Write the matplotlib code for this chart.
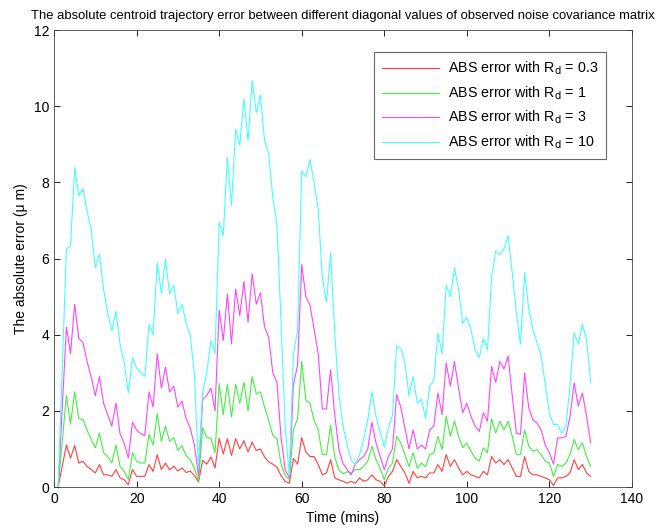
import numpy as np
import matplotlib
matplotlib.use('Agg')
import matplotlib.pyplot as plt

plt.rcParams['font.family'] = ['Liberation Sans', 'DejaVu Sans']

# time stamps (mins): first sample, then one per minute
minutes = [1] + list(range(3, 131))

err_r03 = [0.0,
           1.10, 0.76, 1.09, 0.63, 0.68, 0.54, 0.46, 0.37,
           0.59, 0.32, 0.32, 0.28, 0.46, 0.24, 0.19, 0.06, 0.46, 0.28,
           0.28, 0.28, 0.59, 0.41, 0.85, 0.46, 0.63, 0.45, 0.55, 0.42,
           0.50, 0.38, 0.42, 0.30, 0.13, 0.70, 0.60, 0.79, 0.50, 1.28,
           0.87, 1.27, 0.83, 1.27, 1.00, 1.22, 0.92, 1.18, 0.96, 1.00,
           0.79, 0.66, 0.60, 0.52, 0.30, 0.15, 0.10, 0.75, 0.60, 1.30,
           0.92, 0.80, 0.80, 0.59, 0.32, 0.37, 0.72, 0.24, 0.19, 0.15,
           0.10, 0.15, 0.10, 0.24, 0.15, 0.19, 0.32, 0.19, 0.15, 0.03,
           0.28, 0.41, 0.72, 0.54, 0.37, 0.10, 0.41, 0.24, 0.28, 0.24,
           0.37, 0.37, 0.59, 0.41, 0.85, 0.54, 0.72, 0.50, 0.32, 0.41,
           0.32, 0.28, 0.24, 0.41, 0.32, 0.80, 0.63, 0.72, 0.59, 0.72,
           0.50, 0.28, 0.28, 0.80, 0.41, 0.32, 0.32, 0.28, 0.24, 0.19,
           0.04, 0.24, 0.24, 0.28, 0.37, 0.72, 0.46, 0.59, 0.37, 0.28]

err_r1 = [0.0,
          2.40, 1.65, 2.50, 1.80, 1.77, 1.50, 1.25, 1.03,
          1.42, 0.90, 0.80, 0.63, 1.10, 0.54, 0.41, 0.20, 0.90, 0.68,
          0.63, 0.63, 1.38, 1.10, 1.93, 1.20, 1.60, 1.20, 1.30, 0.97,
          1.08, 0.82, 0.72, 0.50, 0.15, 1.55, 1.30, 1.28, 0.90, 2.72,
          1.90, 2.70, 1.84, 2.70, 2.20, 2.75, 2.00, 2.90, 2.45, 2.50,
          2.10, 1.75, 1.35, 1.27, 0.60, 0.30, 0.20, 1.50, 1.80, 3.30,
          2.28, 2.20, 1.75, 1.50, 0.85, 0.85, 1.62, 0.80, 0.45, 0.35,
          0.40, 0.37, 0.46, 0.46, 0.54, 0.68, 1.07, 0.72, 0.50, 0.19,
          0.50, 0.63, 1.33, 1.16, 0.85, 0.54, 0.90, 0.50, 0.63, 0.54,
          0.85, 0.90, 1.33, 0.98, 1.86, 1.33, 1.73, 1.33, 1.03, 1.16,
          0.94, 0.76, 0.68, 1.03, 0.90, 1.80, 1.42, 1.73, 1.50, 1.73,
          1.33, 0.85, 0.85, 1.50, 1.07, 0.94, 0.98, 0.85, 0.68, 0.63,
          0.28, 0.59, 0.54, 0.63, 0.85, 1.25, 0.98, 1.16, 0.80, 0.54]

err_r3 = [0.0,
          4.20, 3.50, 4.80, 3.90, 3.80, 3.30, 2.90, 2.40,
          2.90, 2.20, 1.90, 1.60, 2.20, 1.40, 1.15, 0.76, 1.70, 1.50,
          1.40, 1.35, 2.50, 2.10, 3.50, 2.60, 3.15, 2.50, 2.65, 2.10,
          2.25, 1.80, 1.55, 1.10, 0.30, 2.30, 2.40, 2.60, 2.00, 4.65,
          3.85, 5.07, 3.76, 5.20, 4.50, 5.40, 4.33, 5.60, 4.80, 5.10,
          4.20, 3.94, 3.00, 2.75, 1.30, 0.45, 0.25, 2.70, 3.20, 5.85,
          5.00, 4.78, 4.15, 3.50, 2.05, 2.05, 3.08, 1.90, 1.00, 0.62,
          0.46, 0.32, 0.60, 0.72, 0.80, 1.00, 1.70, 1.16, 0.80, 0.45,
          0.80, 1.00, 2.43, 2.10, 1.55, 1.00, 1.50, 1.00, 1.10, 1.00,
          1.50, 1.60, 2.47, 1.90, 3.26, 2.65, 3.30, 2.60, 1.95, 2.20,
          1.86, 1.60, 1.46, 1.95, 1.73, 3.17, 2.75, 3.30, 3.10, 3.44,
          2.40, 1.42, 1.38, 3.00, 2.08, 1.77, 1.68, 1.50, 1.10, 0.90,
          0.60, 1.29, 1.29, 1.33, 1.86, 2.74, 2.12, 2.47, 1.86, 1.16]

err_r10 = [0.0,
           6.25, 6.33, 8.39, 7.65, 7.84, 7.25, 6.77, 5.76,
           6.11, 5.19, 4.58, 4.10, 4.62, 3.75, 3.26, 2.47, 3.39, 3.13,
           3.00, 2.91, 4.27, 4.00, 5.89, 5.10, 5.98, 5.07, 5.30, 4.55,
           4.80, 4.30, 3.98, 2.97, 0.45, 2.50, 3.00, 3.85, 3.50, 6.95,
           6.60, 8.66, 7.40, 9.40, 8.97, 10.20, 9.10, 10.67, 9.84, 10.30,
           9.10, 8.75, 7.60, 6.90, 4.30, 1.60, 0.30, 3.50, 4.10, 8.30,
           8.15, 8.60, 8.00, 7.30, 5.50, 4.85, 6.15, 4.05, 2.45, 1.60,
           1.10, 0.70, 0.60, 0.85, 1.25, 1.77, 2.50, 1.85, 1.45, 1.05,
           1.55, 1.88, 3.70, 3.63, 3.26, 2.40, 2.90, 2.20, 2.30, 1.80,
           2.65, 2.80, 4.05, 3.50, 5.30, 5.00, 5.76, 5.20, 4.30, 4.45,
           4.14, 3.60, 3.40, 3.90, 3.60, 5.52, 6.20, 6.10, 6.25, 6.60,
           5.63, 4.58, 3.75, 5.63, 4.67, 4.14, 3.79, 3.44, 2.70, 1.95,
           1.64, 1.64, 1.42, 1.60, 2.65, 4.05, 3.75, 4.27, 3.88, 2.74]

rd_values = ['0.3', '1', '3', '10']
colors = ['#ff4040', '#44ee44', '#ff44ff', '#44ffff']

fig = plt.figure(figsize=(6.62, 5.30), dpi=100)
ax = fig.add_axes([0.0816, 0.0811, 0.873, 0.862])

for err, rd, col in zip([err_r03, err_r1, err_r3, err_r10], rd_values, colors):
    ax.plot(minutes, err, color=col, lw=0.8, label=f'ABS error with R$_{{\\rm d}}$ = {rd}')

ax.set_xlim(0, 140)
ax.set_ylim(0, 12)
ax.set_xticks(np.arange(0, 141, 20))
ax.set_yticks(np.arange(0, 13, 2))
ax.tick_params(direction='in', top=True, right=True, length=4, labelsize=10, width=0.6)
for s in ax.spines.values():
    s.set_linewidth(0.6)
    s.set_color('#444444')

ax.set_title('The absolute centroid trajectory error between different diagonal values of observed noise covariance matrix',
             fontsize=9.4, pad=8)
ax.set_xlabel('Time (mins)', fontsize=10)
ax.set_ylabel('The absolute error (\u03bc m)', fontsize=10)

leg = ax.legend(loc='upper right', bbox_to_anchor=(0.955, 0.952), borderaxespad=0,
                fontsize=10.3, fancybox=False, edgecolor='#444444', handlelength=4.0,
                labelspacing=0.5, borderpad=0.55, handletextpad=0.6)
leg.get_frame().set_linewidth(0.8)

fig.savefig('out.png', dpi=100)
